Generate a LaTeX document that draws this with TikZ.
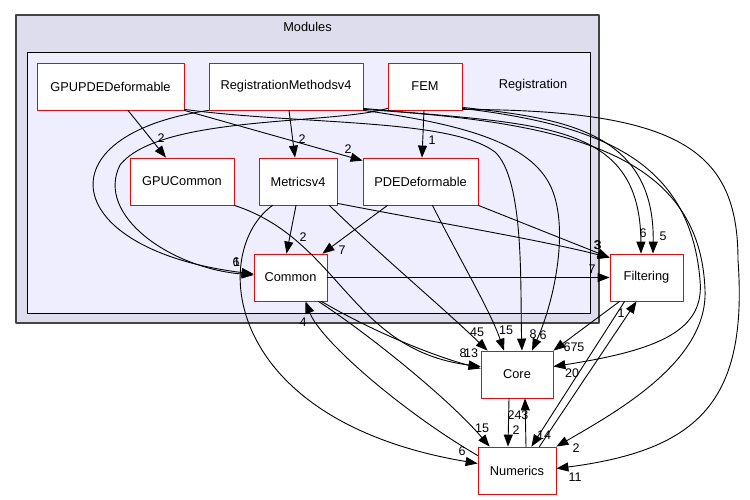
\documentclass[tikz,border=0pt]{standalone}
\usepackage{fontspec}
\setmainfont{Liberation Sans}
\usetikzlibrary{arrows.meta}
\definecolor{outerfill}{HTML}{DDDDEE}
\definecolor{innerfill}{HTML}{EEEEFF}
\definecolor{outerline}{HTML}{444444}
\definecolor{dirred}{HTML}{FF0000}

\begin{document}
\begin{tikzpicture}[
  x=1pt,y=-1pt,line cap=round,line join=round,
  font=\fontsize{12.8}{15}\selectfont,
  dirbox/.style={draw=dirred,fill=white,line width=0.8pt,minimum height=47pt,inner sep=0pt},
  dep/.style={black,line width=0.9pt,-{Triangle[length=12pt,width=9pt]}},
  lbl/.style={inner sep=0pt,font=\fontsize{12.5}{14}\selectfont}
]
  \fill[white] (0,0) rectangle (750,500);

  % Clusters: Modules around Registration.
  \filldraw[fill=outerfill,draw=outerline,line width=1.3pt] (16,15) rectangle (599,323);
  \node (modules) at (307.5,27) {Modules};
  \filldraw[fill=innerfill,draw=black,line width=0.9pt] (27,52) rectangle (590,313);
  \node (registration) at (533,85) {Registration};

  % Directories inside Registration.
  \node[dirbox,minimum width=147pt] (gpupde) at (110.5,86.5) {GPUPDEDeformable};
  \node[dirbox,minimum width=154pt] (regm) at (286,86.5) {RegistrationMethodsv4};
  \node[dirbox,minimum width=74pt] (fem) at (425,86.5) {FEM};
  \node[dirbox,minimum width=104pt] (gpucommon) at (182,181.5) {GPUCommon};
  \node[dirbox,minimum width=78pt] (metrics) at (298,181.5) {Metricsv4};
  \node[dirbox,minimum width=115pt] (pde) at (420.5,181.5) {PDEDeformable};
  \node[dirbox,minimum width=73pt] (common) at (290.5,277.5) {Common};

  % Directories outside.
  \node[dirbox,minimum width=73pt] (filtering) at (646.5,277.5) {Filtering};
  \node[dirbox,minimum width=72pt] (core) at (517,374.5) {Core};
  \node[dirbox,minimum width=78pt] (numerics) at (517,470.5) {Numerics};

  % Dependencies inside the cluster.
  \draw[dep] ([xshift=17.5pt]gpupde.south) -- ([xshift=-16pt]gpucommon.north);
  \draw[dep] (gpupde.south east) -- ([yshift=-3pt]pde.north west);
  \draw[dep] ([xshift=3pt]regm.south) -- ([xshift=-3pt]metrics.north);
  \draw[dep] ([xshift=-1pt]fem.south) -- ([xshift=1.5pt]pde.north);
  \draw[dep] (regm.south west) .. controls (40,135) and (60,250) .. ([yshift=3.5pt]common.west);
  \draw[dep] ([yshift=2pt]fem.south west) .. controls (330,125) and (160,115) .. (120,165)
    .. controls (95,215) and (170,268) .. ([yshift=2.5pt]common.west);
  \draw[dep] ([xshift=-2pt]metrics.south) -- ([xshift=-4pt]common.north);
  \draw[dep] ([xshift=-33pt]pde.south) -- ([xshift=-5pt]common.north east);

  % Dependencies on Core.
  \draw[dep] (gpucommon.south east) .. controls (340,240) and (350,350) .. ([yshift=8pt]core.west);
  \draw[dep] ([xshift=-6pt]common.south east) .. controls (370,330) and (430,355) .. ([yshift=6pt]core.west);
  \draw[dep] ([xshift=-8pt]metrics.south east) .. controls (380,255) and (440,305) .. ([xshift=7pt]core.north west);
  \draw[dep] ([xshift=12pt]pde.south) .. controls (460,260) and (490,310) .. ([xshift=-13pt]core.north);
  \draw[dep] ([yshift=1pt]gpupde.south east) .. controls (300,125) and (450,118) .. (495,152)
    .. controls (525,180) and (520,290) .. ([xshift=5pt]core.north);
  \draw[dep] (regm.south east) .. controls (470,125) and (530,145) .. (550,185)
    .. controls (570,225) and (555,300) .. ([xshift=15pt]core.north);
  \draw[dep] ([yshift=2pt]fem.south east) .. controls (600,125) and (690,160) .. (700,280)
    .. controls (705,330) and (660,350) .. ([yshift=8pt]core.east);
  \draw[dep] ([xshift=10pt]filtering.south west) -- (core.north east);
  \draw[dep] ([xshift=9pt]numerics.north) -- ([xshift=8pt]core.south);

  % Dependencies on Filtering.
  \draw[dep] (common) -- (filtering);
  \draw[dep] (pde.south east) -- ([yshift=-4pt]filtering.north west);
  \draw[dep] ([yshift=2pt]metrics.south east) .. controls (450,225) and (540,240) .. ([yshift=-4pt]filtering.north west);
  \draw[dep] ([yshift=2pt]regm.south east) .. controls (540,125) and (640,120) .. ([xshift=-5.5pt]filtering.north);
  \draw[dep] ([yshift=3pt]fem.south east) .. controls (560,118) and (655,130) .. ([xshift=6.5pt]filtering.north);
  \draw[dep] ([xshift=-17pt]numerics.north east) -- ([xshift=-10pt]filtering.south);

  % Dependencies on Numerics and Common.
  \draw[dep] ([xshift=-8pt]core.south) -- ([xshift=-9pt]numerics.north);
  \draw[dep] ([xshift=15pt]filtering.south west) -- ([xshift=-25pt]numerics.north east);
  \draw[dep] ([xshift=-9pt]common.south east) .. controls (370,335) and (450,400) .. ([xshift=12pt]numerics.north west);
  \draw[dep] ([xshift=14pt]metrics.south west) .. controls (210,250) and (220,420) .. ([yshift=7pt]numerics.west);
  \draw[dep] ([yshift=15pt]numerics.west) .. controls (400,410) and (320,340) .. ([xshift=15pt]common.south);
  \draw[dep] ([yshift=1pt]regm.south east) .. controls (560,122) and (700,150) .. (705,290)
    .. controls (708,360) and (620,410) .. (numerics.north east);
  \draw[dep] ([yshift=1pt]fem.south east) .. controls (680,110) and (738,150) .. (738,260)
    .. controls (748,400) and (700,450) .. ([yshift=2pt]numerics.east);

  % Edge counts.
  \foreach \x/\y/\t [count=\i] in {161/138/2, 348/149/2, 302/139/2, 432/140/1,
      236/262/6, 236.5/262/1, 463/353/8, 471/353/13, 303/237/2, 342/250/7,
      477/332/45, 462/451/6, 303/322/4, 482/428/15, 506/330/15, 597/245/3,
      598/245/3, 592/269/7, 574/347/675, 544/435/14, 621/313/1, 516/430/2,
      518/415/243, 533/334/8, 543/335/6, 643/233/6, 663/236/5, 572/373/20,
      576/448/2, 575/477/11} {
    \node[lbl] (lab\i) at (\x,\y) {\t};
  }
\end{tikzpicture}
\end{document}
